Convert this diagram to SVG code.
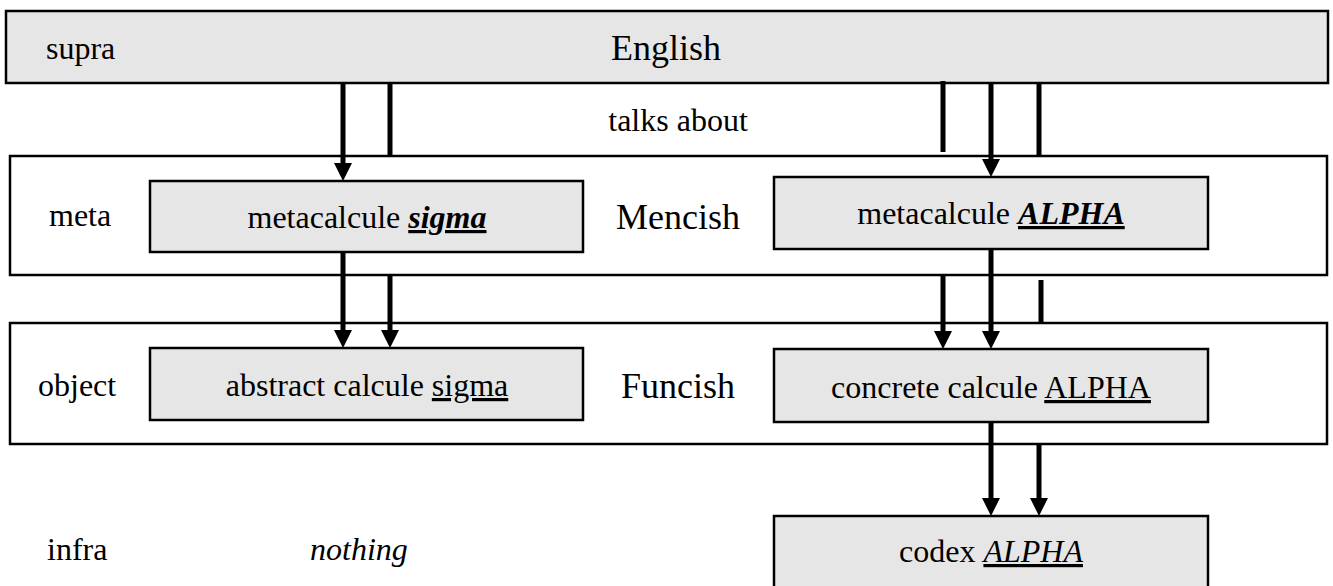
<svg xmlns="http://www.w3.org/2000/svg" width="1333" height="586" viewBox="0 0 1333 586" font-family="'Liberation Serif', 'DejaVu Serif', serif">
<defs>
<style>
.bar{fill:#e6e6e6;stroke:#000;stroke-width:2.5}
.panel{fill:#fff;stroke:#000;stroke-width:2.5}
.box{fill:#e6e6e6;stroke:#000;stroke-width:2.5}
text{font-family:'Liberation Serif', 'DejaVu Serif', serif;fill:#000}
.t{font-size:32px}
.big{font-size:36px}
.c{text-anchor:middle}
.u{text-decoration:underline}
.bi{font-weight:bold;font-style:italic}
.i{font-style:italic}
.ln{stroke:#000;stroke-width:5;fill:none}
.ar{stroke:#000;stroke-width:5;fill:none;marker-end:url(#ah)}
</style>
<marker id="ah" markerUnits="userSpaceOnUse" markerWidth="18" markerHeight="18" viewBox="0 0 18 18" refX="6" refY="9" orient="auto">
<path d="M0,0 L18,9 L0,18 Z" fill="#000"/>
</marker>
</defs>
<g id="supra">
<rect class="bar" x="6" y="11" width="1322" height="72"/>
<text class="t" x="46" y="59">supra</text>
<text class="big c" x="666" y="60">English</text>
</g>
<g id="talks-about">
<text class="t c" x="678" y="131">talks about</text>
</g>
<g id="meta">
<rect class="panel" x="10" y="156" width="1317" height="119"/>
<text class="t" x="49" y="226">meta</text>
<text class="big c" x="678" y="229">Mencish</text>
</g>
<g id="meta-sigma">
<rect class="box" x="150" y="181" width="433" height="71"/>
<text class="t c" x="367" y="228">metacalcule <tspan class="bi u">sigma</tspan></text>
</g>
<g id="meta-alpha">
<rect class="box" x="774" y="177" width="434" height="72"/>
<text class="t c" x="991" y="224">metacalcule <tspan class="bi u">ALPHA</tspan></text>
</g>
<g id="object">
<rect class="panel" x="10" y="323" width="1317" height="121"/>
<text class="t" x="38" y="396">object</text>
<text class="big c" x="678" y="398">Funcish</text>
</g>
<g id="abstract-sigma">
<rect class="box" x="150" y="348" width="433" height="72"/>
<text class="t c" x="367" y="396">abstract calcule <tspan class="u">sigma</tspan></text>
</g>
<g id="concrete-alpha">
<rect class="box" x="774" y="349" width="434" height="73"/>
<text class="t c" x="991" y="398">concrete calcule <tspan class="u">ALPHA</tspan></text>
</g>
<g id="infra">
<text class="t" x="47" y="560">infra</text>
<text class="t i" x="310" y="560">nothing</text>
</g>
<g id="codex-alpha">
<rect class="box" x="774" y="516" width="434" height="76"/>
<text class="t c" x="991" y="562">codex <tspan class="i u">ALPHA</tspan></text>
</g>
<g id="connectors">
<line class="ar" x1="343" y1="84" x2="343" y2="169"/>
<line class="ln" x1="390" y1="84" x2="390" y2="156"/>
<line class="ar" x1="343" y1="252" x2="343" y2="336"/>
<line class="ar" x1="390" y1="275" x2="390" y2="336"/>
<line class="ln" x1="943" y1="81" x2="943" y2="152"/>
<line class="ar" x1="991" y1="84" x2="991" y2="165"/>
<line class="ln" x1="1039" y1="84" x2="1039" y2="156"/>
<line class="ar" x1="943" y1="275" x2="943" y2="337"/>
<line class="ar" x1="991" y1="249" x2="991" y2="337"/>
<line class="ln" x1="1041" y1="280" x2="1041" y2="323"/>
<line class="ar" x1="991" y1="422" x2="991" y2="504"/>
<line class="ar" x1="1039" y1="444" x2="1039" y2="504"/>
</g>
</svg>
